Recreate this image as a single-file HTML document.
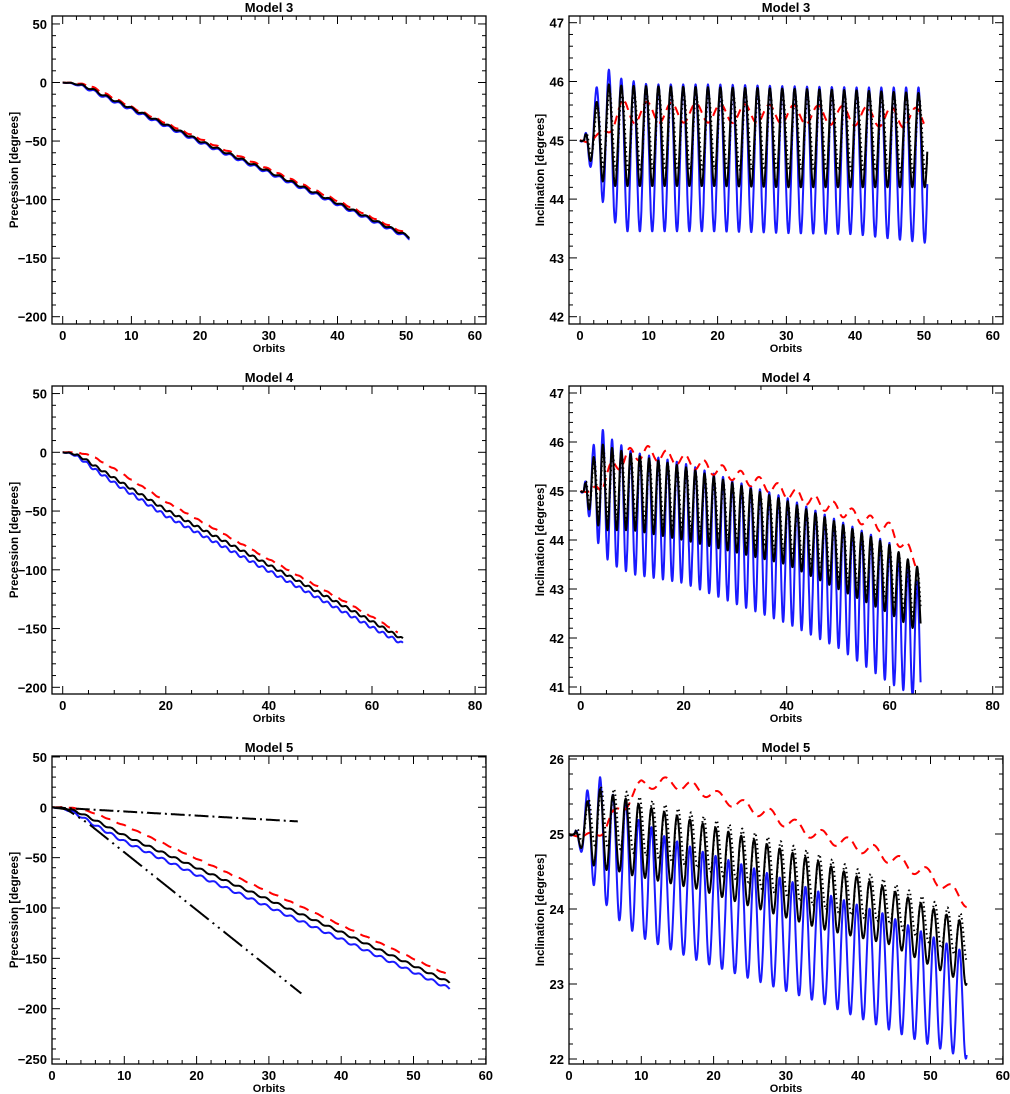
<!DOCTYPE html>
<html><head><meta charset="utf-8"><style>
html,body{margin:0;padding:0;background:#fff;}
svg{display:block;font-family:"Liberation Sans",sans-serif;}
</style></head><body>
<svg id="fig" width="1010" height="1094" viewBox="0 0 1010 1094" xmlns="http://www.w3.org/2000/svg"></svg>
<script>
// ---------- DATA ----------
// Model 3 inclination
const m3T=[0,0.6,1.2,2.4,3.3,4.2,5.1,6,10,20,30,40,50.5];
const m3BlueHi=[45,45,45.5,45.9,46.1,46.2,46.1,46.05,45.95,45.95,45.92,45.9,45.9];
const m3BlueLo=[45,44.85,44.6,44.4,43.95,43.8,43.6,43.45,43.45,43.45,43.42,43.4,43.25];
const m3BlackHi=[45,45,45.4,45.65,45.85,45.95,45.93,45.93,45.92,45.9,45.88,45.85,45.8];
const m3BlackLo=[45,44.9,44.7,44.5,44.3,44.25,44.22,44.22,44.22,44.22,44.2,44.2,44.2];
const m3DotHi=[45,45,45.3,45.55,45.75,45.85,45.8,45.8,45.8,45.78,45.75,45.75,45.7];
const m3DotLo=[45,44.95,44.8,44.65,44.55,44.5,44.5,44.5,44.5,44.5,44.5,44.48,44.45];
const m3RedT=[0,1.5,3,4.5,6.2,10,20,30,40,50];
const m3RedHi=[45,45.0,45.15,45.45,45.7,45.65,45.62,45.6,45.58,45.55];
const m3RedLo=[45,44.95,45.02,45.15,45.28,45.3,45.3,45.28,45.25,45.2];
// Model 4 inclination
const m4T=[0,0.6,1.2,2.3,3.3,4.3,5.2,6.1,10,20,30,40,50,60,66];
const m4BlueHi=[45,45,45.5,45.9,46.1,46.25,46.15,46.05,45.8,45.57,45.2,44.86,44.4,43.94,43.05];
const m4BlueLo=[45,44.85,44.6,44.3,43.95,43.8,43.6,43.5,43.3,43.12,42.7,42.3,41.8,41.08,40.75];
const m4BlackHi=[45,45,45.4,45.65,45.85,45.95,45.9,45.88,45.75,45.5,45.15,44.8,44.35,43.9,43.4];
const m4BlackLo=[45,44.9,44.7,44.5,44.3,44.25,44.2,44.2,44.2,44.0,43.75,43.5,43.0,42.5,42.1];
const m4DotHi=[45,45,45.35,45.6,45.78,45.87,45.82,45.8,45.68,45.43,45.08,44.73,44.28,43.83,43.33];
const m4DotLo=[45,44.95,44.8,44.65,44.55,44.5,44.45,44.45,44.45,44.25,44.0,43.75,43.25,42.75,42.35];
const m4RedT=[0,2,4,6,9.5,13,20,30,40,50,60,65];
const m4RedHi=[45,45.0,45.3,45.6,45.88,45.92,45.75,45.45,45.1,44.75,44.35,43.75];
const m4RedLo=[45,44.95,45.0,45.3,45.6,45.65,45.5,45.2,44.85,44.5,44.1,43.45];
// Model 5 inclination
const m5BlueHiT=[0,0.75,2.5,4.3,6.1,7.9,9.6,11.4,13.2,18.6,25.7,34.6,43.5,54,55];
const m5BlueHi=[25,25,25.58,25.76,25.52,25.45,25.19,25.09,24.97,24.76,24.54,24.23,23.94,23.46,23.4];
const m5BlueLoT=[0,1.6,3.4,5.2,6.95,8.7,10.5,17.6,26.3,35.1,44.3,53.2,55];
const m5BlueLo=[25,24.78,24.32,24.05,23.85,23.71,23.6,23.32,23.03,22.74,22.39,22.07,22.0];
const m5BlackHiT=[0,0.75,2.5,4.3,6.1,7.9,9.6,16.5,25.7,34.6,43.5,54,55];
const m5BlackHi=[25,25,25.43,25.6,25.52,25.47,25.4,25.2,24.92,24.63,24.3,23.85,23.8];
const m5BlackLoT=[0,1.6,3.4,5.2,6.95,8.7,17.6,26.3,35.1,44.3,53.2,55];
const m5BlackLo=[25,24.82,24.58,24.52,24.5,24.45,24.27,24.0,23.73,23.53,23.09,22.98];
const m5DotHi=[25,25,25.45,25.62,25.6,25.57,25.5,25.3,25.02,24.73,24.4,23.95,23.9];
const m5DotLo=[25,24.9,24.85,24.82,24.8,24.75,24.55,24.28,24.0,23.8,23.4,23.3];
const m5RedT=[0,2,3.5,5,6.5,8,10,13,17,22,28,34,42,50,55];
const m5RedHi=[25,24.98,25.05,25.2,25.35,25.55,25.72,25.76,25.7,25.52,25.33,25.08,24.86,24.53,24.18];
const m5RedLo=[25,24.94,24.95,25.0,25.15,25.35,25.58,25.62,25.56,25.38,25.17,24.92,24.7,24.37,24.02];
// Precession
const m3PT=[0,2,4,6,10,20,30,40,50.5];
const m3PBlack=[0,-1,-5,-11,-22,-50,-76,-103,-132];
const m3PBlue=[0,-1.5,-6,-12,-23,-51,-77,-104,-133];
const m3PRedT=[0,2,4,6,10,20,30,40,50];
const m3PRed=[0,-0.5,-3,-9,-21,-48,-74,-101,-129];
const m4PT=[0,2,4,6,10,20,40,60,66];
const m4PBlack=[0,-1,-5,-11,-22,-49,-96,-144,-159];
const m4PBlue=[0,-1.5,-7,-14,-26,-54,-101,-149,-163];
const m4PRedT=[0,2,4,6,10,20,40,60,65];
const m4PRed=[0,0,-1,-4,-14,-42,-91,-140,-153];
const m5PT=[0,2,4,6,10,20,30,40,55];
const m5PBlack=[0,-1,-6,-13,-28,-60,-92,-124,-174];
const m5PBlue=[0,-2,-9,-18,-34,-67,-99,-131,-180];
const m5PRed=[0,0,-2,-6,-18,-51,-84,-117,-167];
const m5DashDotT=[0,34];
const m5DashDot=[0,-14];
const m5DDDT=[0,2,5,34.5];
const m5DDD=[0,-2,-16,-185];

// ---------- HELPERS ----------
const NS="http://www.w3.org/2000/svg";
const svg=document.getElementById('fig');
function mk(tag,attrs,parent){const e=document.createElementNS(NS,tag);for(const k in attrs)e.setAttribute(k,attrs[k]);(parent||svg).appendChild(e);return e;}
function lerp(ts,vs,t){if(t<=ts[0])return vs[0];for(let i=1;i<ts.length;i++){if(t<=ts[i]){const f=(t-ts[i-1])/(ts[i]-ts[i-1]);return vs[i-1]+f*(vs[i]-vs[i-1]);}}return vs[vs.length-1];}
function osc(t,hT,hi,lT,lo,P,tp){const c=Math.cos(2*Math.PI*(t-tp)/P);const h=lerp(hT,hi,t),l=lerp(lT,lo,t);return h*(1+c)/2+l*(1-c)/2;}
function fmt(v){return (v<0?'\u2212':'')+Math.abs(Math.round(v*100)/100);}

function panel(cfg){
  const g=mk('g',{});
  
  
  const [L,T,R,B]=cfg.box;
  const X=v=>cfg.x0+v*cfg.sx;
  const Y=v=>cfg.y0-(v-cfg.yref)*cfg.sy;
  const xmin=(L-cfg.x0)/cfg.sx,xmax=(R-cfg.x0)/cfg.sx;
  const ymax=cfg.yref+(cfg.y0-T)/cfg.sy,ymin=cfg.yref+(cfg.y0-B)/cfg.sy;
  const cid='clip'+cfg.name;
  const cp=mk('clipPath',{id:cid},g);mk('rect',{x:L,y:T,width:R-L,height:B-T},cp);
  const data=mk('g',{'clip-path':'url(#'+cid+')'},g);
  
  
  cfg.series.forEach(s=>{
    let d='';
    for(let t=0;t<=s.end+1e-9;t+=0.04){const tt=Math.min(t,s.end);d+=(d?'L':'M')+X(tt).toFixed(1)+','+Y(s.f(tt)).toFixed(1);}
    const p=mk('path',{d:d,fill:'none',stroke:s.color,'stroke-width':s.w||2,'stroke-dasharray':s.dash||'none','stroke-linecap':s.cap||'butt','stroke-linejoin':'round'},data);
    
    
  });
  const bx=mk('rect',{x:L,y:T,width:R-L,height:B-T,fill:'none',stroke:'#000','stroke-width':1.3},g);
  
  
  const tk=mk('g',{stroke:'#000','stroke-width':1},g);
  for(let i=Math.ceil(xmin/cfg.xminor-1e-6);i*cfg.xminor<=xmax+1e-6;i++){
    const v=i*cfg.xminor;const px=X(v);const maj=Math.abs(v/cfg.xmajor-Math.round(v/cfg.xmajor))<1e-6;
    const len=maj?8:4;
    mk('line',{x1:px,y1:B,x2:px,y2:B-len},tk);mk('line',{x1:px,y1:T,x2:px,y2:T+len},tk);
    if(maj){const tx=mk('text',{x:px,y:B+16,'font-size':13,'font-weight':'bold','text-anchor':'middle',fill:'#000'},g);tx.textContent=fmt(v);
      
      }
  }
  for(let i=Math.ceil(ymin/cfg.yminor-1e-6);i*cfg.yminor<=ymax+1e-6;i++){
    const v=i*cfg.yminor;const py=Y(v);const maj=Math.abs(v/cfg.ymajor-Math.round(v/cfg.ymajor))<1e-6;
    const len=maj?8:4;
    mk('line',{x1:L,y1:py,x2:L+len,y2:py},tk);mk('line',{x1:R,y1:py,x2:R-len,y2:py},tk);
    if(maj){const tx=mk('text',{x:L-5,y:py+5,'font-size':13,'font-weight':'bold','text-anchor':'end',fill:'#000'},g);tx.textContent=fmt(v);
      
      }
  }
  const tt=mk('text',{x:(L+R)/2,y:T-4,'font-size':13,'font-weight':'bold','text-anchor':'middle',fill:'#000'},g);tt.textContent=cfg.title;
  
  
  const xt=mk('text',{x:(L+R)/2,y:B+28,'font-size':11,'font-weight':'bold','text-anchor':'middle',fill:'#000'},g);xt.textContent='Orbits';
  
  
  const yx=cfg.ytx,yy=(T+B)/2;
  const yt=mk('text',{x:yx,y:yy,'font-size':11.5,'font-weight':'bold','text-anchor':'middle',fill:'#000',transform:'rotate(-90 '+yx+' '+yy+')'},g);yt.textContent=cfg.ytitle;
  
  
}
const BLUE='#1a1aff',RED='#ff0000',BLK='#000';
function prec(T,V,amp,P,tp){return t=>lerp(T,V,t)+amp*Math.min(1,t/3)*Math.sin(2*Math.PI*(t-tp)/P);}

// ---------- PANELS ----------
panel({name:'model3-precession',title:'Model  3',box:[52,16,486,324],x0:62.7,sx:6.87,y0:82.5,yref:0,sy:1.171,
  xmajor:10,xminor:2,ymajor:50,yminor:10,ytitle:'Precession  [degrees]',ytx:18,
  series:[
    {name:'blue-precession',color:BLUE,end:50.5,f:prec(m3PT,m3PBlue,1.2,1.8,4.2)},
    {name:'red-dashed-precession',color:RED,end:50,dash:'9,6',f:prec(m3PRedT,m3PRed,0.6,1.8,4.2)},
    {name:'black-precession',color:BLK,end:50.5,f:prec(m3PT,m3PBlack,1.0,1.8,4.2)}]});
panel({name:'model3-inclination',title:'Model  3',box:[569,16,1003,324],x0:580,sx:6.88,y0:22.7,yref:47,sy:58.8,
  xmajor:10,xminor:2,ymajor:1,yminor:0.2,ytitle:'Inclination  [degrees]',ytx:544,
  series:[
    {name:'blue-inclination',color:BLUE,end:50.5,f:t=>osc(t,m3T,m3BlueHi,m3T,m3BlueLo,1.8,4.2)},
    {name:'red-dashed-inclination',color:RED,end:50,dash:'9,6',f:t=>osc(t,m3RedT,m3RedHi,m3RedT,m3RedLo,3.55,6.2)},
    {name:'black-dotted-inclination',color:BLK,end:50.5,dash:'1.5,3',f:t=>osc(t,m3T,m3DotHi,m3T,m3DotLo,1.8,4.3)},
    {name:'black-inclination',color:BLK,end:50.5,f:t=>osc(t,m3T,m3BlackHi,m3T,m3BlackLo,1.8,4.2)}]});
panel({name:'model4-precession',title:'Model  4',box:[52,386,486,694],x0:62.7,sx:5.155,y0:452.3,yref:0,sy:1.175,
  xmajor:20,xminor:5,ymajor:50,yminor:10,ytitle:'Precession  [degrees]',ytx:18,
  series:[
    {name:'blue-precession',color:BLUE,end:66,f:prec(m4PT,m4PBlue,1.2,1.795,4.3)},
    {name:'red-dashed-precession',color:RED,end:65,dash:'10,7',f:prec(m4PRedT,m4PRed,0.4,1.795,4.3)},
    {name:'black-precession',color:BLK,end:66,f:prec(m4PT,m4PBlack,1.0,1.795,4.3)}]});
panel({name:'model4-inclination',title:'Model  4',box:[569,386,1003,694],x0:580.7,sx:5.15,y0:393,yref:47,sy:49,
  xmajor:20,xminor:5,ymajor:1,yminor:0.2,ytitle:'Inclination  [degrees]',ytx:544,
  series:[
    {name:'blue-inclination',color:BLUE,end:66,f:t=>osc(t,m4T,m4BlueHi,m4T,m4BlueLo,1.795,4.3)},
    {name:'red-dashed-inclination',color:RED,end:65,dash:'9,6',f:t=>osc(t,m4RedT,m4RedHi,m4RedT,m4RedLo,3.6,9.5)},
    {name:'black-dotted-inclination',color:BLK,end:66,dash:'1.5,3',f:t=>osc(t,m4T,m4DotHi,m4T,m4DotLo,1.795,4.4)},
    {name:'black-inclination',color:BLK,end:66,f:t=>osc(t,m4T,m4BlackHi,m4T,m4BlackLo,1.795,4.3)}]});
panel({name:'model5-precession',title:'Model  5',box:[52,756,486,1064],x0:52,sx:7.23,y0:807.3,yref:0,sy:1.007,
  xmajor:10,xminor:2,ymajor:50,yminor:10,ytitle:'Precession  [degrees]',ytx:18,
  series:[
    {name:'blue-precession',color:BLUE,end:55,f:prec(m5PT,m5PBlue,1.3,1.775,4.3)},
    {name:'red-dashed-precession',color:RED,end:55,dash:'10,7',f:prec(m5PT,m5PRed,0.4,1.775,4.3)},
    {name:'black-precession',color:BLK,end:55,f:prec(m5PT,m5PBlack,1.0,1.775,4.3)},
    {name:'dash-dot-precession',color:BLK,end:34,dash:'14,4,2,4',f:t=>lerp(m5DashDotT,m5DashDot,t)},
    {name:'dash-dot-dot-precession',color:BLK,end:34.5,dash:'24,5,2,5,2,5',f:t=>lerp(m5DDDT,m5DDD,t)}]});
panel({name:'model5-inclination',title:'Model  5',box:[569,756,1003,1064],x0:569,sx:7.23,y0:759,yref:26,sy:75,
  xmajor:10,xminor:2,ymajor:1,yminor:0.2,ytitle:'Inclination  [degrees]',ytx:544,
  series:[
    {name:'blue-inclination',color:BLUE,end:55,f:t=>osc(t,m5BlueHiT,m5BlueHi,m5BlueLoT,m5BlueLo,1.775,4.3)},
    {name:'red-dashed-inclination',color:RED,end:55,dash:'9,6',f:t=>osc(t,m5RedT,m5RedHi,m5RedT,m5RedLo,3.6,9.8)},
    {name:'black-dotted-inclination',color:BLK,end:55,dash:'1.5,3',f:t=>osc(t,m5BlackHiT,m5DotHi,m5BlackLoT,m5DotLo,1.775,4.45)},
    {name:'black-inclination',color:BLK,end:55,f:t=>osc(t,m5BlackHiT,m5BlackHi,m5BlackLoT,m5BlackLo,1.775,4.3)}]});
</script>
</body></html>
